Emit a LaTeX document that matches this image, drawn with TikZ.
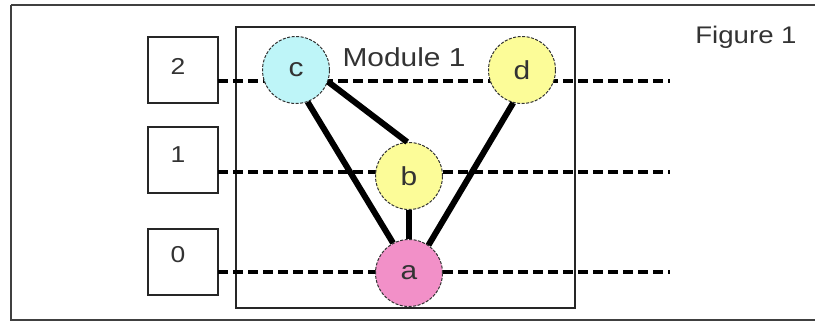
\documentclass[tikz,border=0pt]{standalone}
\usepackage{fontspec}
\setmainfont{Liberation Sans}[FakeStretch=1.15]
\definecolor{cfill}{HTML}{BEF5F8}
\definecolor{yfill}{HTML}{FCFC98}
\definecolor{pfill}{HTML}{F290C8}
\definecolor{txt}{HTML}{333333}
\begin{document}
\begin{tikzpicture}[x=1pt,y=-1pt,
  frame/.style={draw=black!75,line width=2pt},
  lvlbox/.style={draw=black!85,line width=1.4pt,minimum width=70pt,minimum height=66pt,inner sep=0pt},
  lvltxt/.style={font=\fontsize{23}{23}\selectfont,text=txt},
  vnode/.style={circle,draw=black!80,line width=1pt,dash pattern=on 3pt off 1.5pt,minimum size=67pt,inner sep=0pt,font=\fontsize{26}{26}\selectfont,text=txt},
  level/.style={line width=3.5pt,dash pattern=on 10pt off 5pt},
  edge/.style={line width=6pt}]
\useasboundingbox (0,0) rectangle (815,322);
\fill[white] (0,0) rectangle (815,322);
% outer frame
\draw[frame] (11,5) -- (830,5) (11,5) -- (11,320) -- (830,320);
% module box
\node[draw=black!85,line width=1.4pt,minimum width=339pt,minimum height=281pt,inner sep=0pt] (mod) at (405.5,167.5) {};
\node[font=\fontsize{26}{26}\selectfont,text=txt] (modlbl) at (404,57) {Module 1};
\node[font=\fontsize{24}{24}\selectfont,text=txt] (figlbl) at (746,37) {Figure 1};
% level boxes
\node[lvlbox] (l2) at (183,70) {};
\node[lvlbox] (l1) at (183,160) {};
\node[lvlbox] (l0) at (183,262) {};
\node[lvltxt] (t2) at (178,66) {2};
\node[lvltxt] (t1) at (178,155) {1};
\node[lvltxt] (t0) at (178,255) {0};
% level lines
\coordinate (s2) at (218,81); \coordinate (e2) at (670,81);
\coordinate (s1) at (218,172); \coordinate (e1) at (670,172);
\coordinate (s0) at (218,272); \coordinate (e0) at (670,272);
\draw[level] (s2) -- (e2);
\draw[level] (s1) -- (e1);
\draw[level] (s0) -- (e0);
% vertices
\node[vnode,fill=cfill] (c) at (296,70) {\raisebox{-3pt}{c}};
\node[vnode,fill=yfill] (d) at (522,70) {\raisebox{-2pt}{d}};
\node[vnode,fill=yfill] (b) at (409,176) {\raisebox{-2pt}{b}};
\node[vnode,fill=pfill] (a) at (409,273) {\raisebox{-4pt}{a}};
% edges
\draw[edge] (c.-70) -- (a.118);
\draw[edge] (c.-20) -- (b.93);
\draw[edge] (b.south) -- (a.north);
\draw[edge] (d.-105) -- (a.55);
\end{tikzpicture}
\end{document}
